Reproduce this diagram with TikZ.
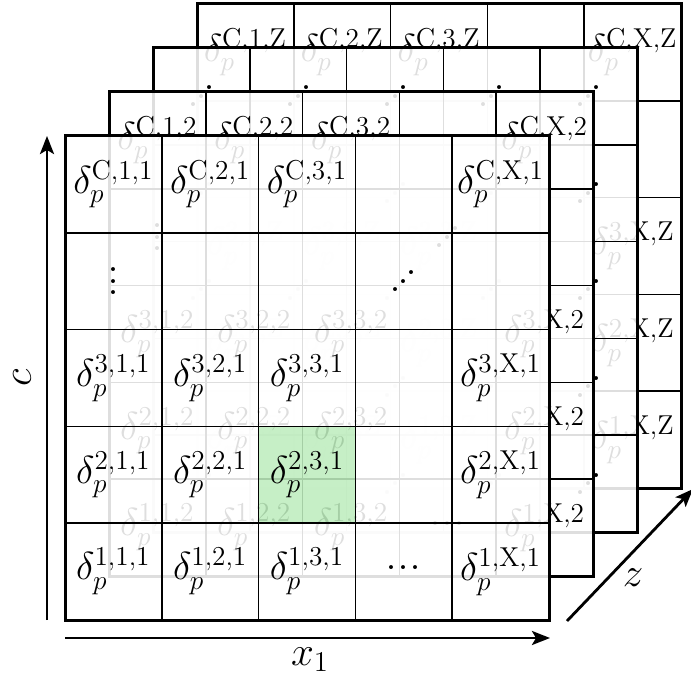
\RequirePackage{fix-cm}
\documentclass[tikz,border=0pt]{standalone}
\usetikzlibrary{arrows.meta}
\definecolor{hl}{RGB}{190,237,190}
\newcommand{\dotfnt}{\fontsize{24}{28}\selectfont}
\newcommand{\myvdots}{{\dotfnt\vbox{\baselineskip=5.75pt\lineskiplimit=-20pt\hbox{.}\hbox{.}\hbox{.}}}}
\newcommand{\myiddots}{{\dotfnt\hbox{\makebox[4pt]{.}\raise4.25pt\hbox{\makebox[4pt]{.}}\raise8.5pt\hbox{\makebox[4pt]{.}}}}}
\newcommand{\mycdots}{{\dotfnt\hbox{\makebox[6pt]{.}\makebox[6pt]{.}\makebox[6pt]{.}}}}
\newcommand{\cx}[1]{65+(#1-0.5)*96.8}
\newcommand{\cy}[1]{136+(#1-0.5)*96.8}
\tikzset{
  cellgrid/.style={line width=0.8pt},
  layerborder/.style={line width=1.5pt},
  lbl/.style={font=\fontsize{19.5}{23}\selectfont, inner sep=0pt},
  dotlbl/.style={inner sep=0pt},
  axis/.style={line width=1.4pt, -{Stealth[length=9pt,width=7pt,inset=2pt]}},
  axlbl/.style={font=\fontsize{20.5}{24}\selectfont, inner sep=0pt},
  veil/.style={fill=white, fill opacity=0.87},
}
\newcommand{\layerframe}[2]{%
  \begin{scope}[shift={(#1,-#1)}]
    #2
    \foreach \i in {1,...,4} {
      \draw[cellgrid] ({65+\i*96.8},136) -- ({65+\i*96.8},620);
      \draw[cellgrid] (65,{136+\i*96.8}) -- (549,{136+\i*96.8});
    }
    \draw[layerborder] (65,136) rectangle (549,620);
  \end{scope}}
\newcommand{\layerlabels}[3]{%
  \begin{scope}[shift={(#1,-#1)}]
    \foreach \r/\rl in {1/C,3/3,4/2,5/1} {
      \foreach \c/\cl in {1/1,2/2,3/3,5/X} {
        \node[lbl] (#3-\rl-\cl) at ({\cx{\c}},{\cy{\r}}) {$\delta_p^{\mathrm{\rl,\cl,#2}}$};
      }
    }
    \node[dotlbl] (#3-vd) at ({\cx{1}},{\cy{2}}) {\myvdots};
    \node[dotlbl] (#3-id) at ({\cx{4}},{\cy{2}}) {\myiddots};
    \node[dotlbl] (#3-cd) at ({\cx{4}},{\cy{5}-4.5}) {\mycdots};
  \end{scope}}
\begin{document}
\begin{tikzpicture}[x=0.5pt,y=-0.5pt]
\useasboundingbox (0,0) rectangle (691,684);
% layer Z (back)
\layerframe{132}{\fill[white] (65,136) rectangle (549,620);}
\layerlabels{132}{Z}{LZ}
% layer of diagonal dots
\layerframe{88}{\fill[veil] (65,136) rectangle (549,620);}
\begin{scope}[shift={(88,-88)}]
  \foreach \r in {1,...,5} {
    \foreach \c in {1,...,5} {
      \node[dotlbl] (LD-\r-\c) at ({\cx{\c}},{\cy{\r}}) {\myiddots};
    }
  }
\end{scope}
% layer 2
\layerframe{44}{\fill[veil] (65,136) rectangle (549,620);}
\layerlabels{44}{2}{L2}
% layer 1 (front)
\layerframe{0}{%
  \fill[veil, even odd rule] (65,136) rectangle (549,620) (258.6,426.4) rectangle (355.4,523.2);
  \fill[hl, fill opacity=0.87] (258.6,426.4) rectangle (355.4,523.2);}
\layerlabels{0}{1}{L1}
% axes
\coordinate (cb) at (47,620);
\coordinate (ct) at (47,136);
\coordinate (xb) at (65,638);
\coordinate (xe) at (550,638);
\coordinate (zb) at (567,621);
\coordinate (ze) at (693,489);
\draw[axis] (cb) -- (ct);
\draw[axis] (xb) -- (xe);
\draw[axis] (zb) -- (ze);
\node[axlbl, rotate=90] (clab) at (22,378) {$c$};
\node[axlbl] (xlab) at (310,660) {$x_1$};
\node[axlbl] (zlab) at (633,578) {$z$};
\end{tikzpicture}
\end{document}
